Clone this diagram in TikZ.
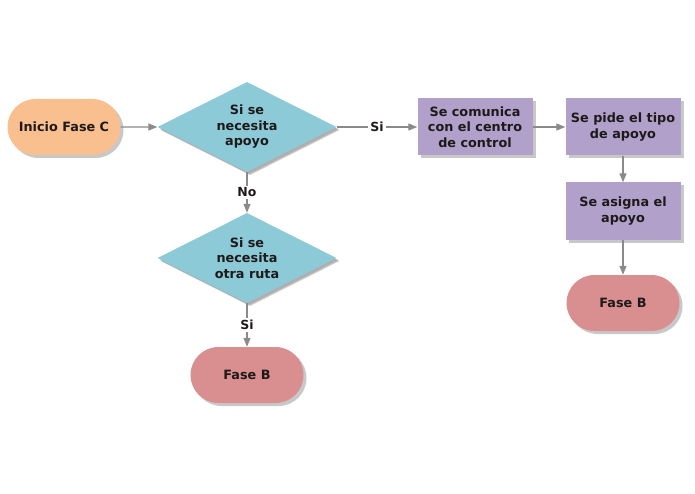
\documentclass[tikz,border=0pt]{standalone}
\usepackage{fontspec}
\setmainfont{DejaVu Sans}
\usetikzlibrary{shapes.geometric,shapes.misc,shadows,arrows.meta}
\definecolor{orangefill}{HTML}{F9BF8F}
\definecolor{bluefill}{HTML}{8DCAD8}
\definecolor{purplefill}{HTML}{B1A0CA}
\definecolor{redfill}{HTML}{D98F8F}
\definecolor{linegray}{HTML}{8A8A8A}
\definecolor{txt}{HTML}{1E1A1A}
\tikzset{
  base/.style={font=\bfseries\fontsize{12.8}{15.5}\selectfont, text=txt, align=center, inner sep=0pt,
    drop shadow={shadow xshift=3pt, shadow yshift=-3pt, opacity=0.3, fill=black!70}},
  term/.style={base, rounded rectangle, minimum width=113pt, minimum height=56pt},
  startbox/.style={term, fill=orangefill},
  endbox/.style={term, fill=redfill},
  decision/.style={base, diamond, aspect=2, fill=bluefill, minimum width=179pt, minimum height=90pt,
    drop shadow={shadow xshift=2pt, shadow yshift=-2pt, opacity=0.2, fill=black!70}},
  process/.style={base, rectangle, fill=purplefill, minimum width=115pt, minimum height=57pt},
  conn/.style={draw=linegray, line width=1.2pt, -{Triangle[length=9pt,width=7pt]}, color=linegray},
  lbl/.style={font=\bfseries\fontsize{12.5}{14}\selectfont, text=txt, fill=white, inner sep=2pt}
}
\begin{document}
\begin{tikzpicture}[x=1pt,y=-1pt]
\useasboundingbox (0,0) rectangle (695,494);
\fill[white] (0,0) rectangle (695,494);
\node[startbox] (start) at (64,127) {Inicio Fase C};
\node[decision] (d1) at (247,127) {Si se\\necesita\\apoyo};
\node[process] (p1) at (475,127) {Se comunica\\con el centro\\de control};
\node[process] (p2) at (623,127) {Se pide el tipo\\de apoyo};
\node[process] (p3) at (623,211) {Se asigna el\\apoyo};
\node[endbox] (e1) at (623,303) {Fase B};
\node[decision] (d2) at (247,258) {Si se\\necesita\\otra ruta};
\node[endbox] (e2) at (247,375) {Fase B};
\draw[conn] (start) -- (d1);
\draw[conn] (d1) -- node[lbl] {Si} (p1);
\draw[conn] (p1) -- (p2);
\draw[conn] (p2) -- (p3);
\draw[conn] (p3) -- (e1);
\draw[conn] (d1) -- node[lbl] {No} (d2);
\draw[conn] (d2) -- node[lbl] {Si} (e2);
\end{tikzpicture}
\end{document}
